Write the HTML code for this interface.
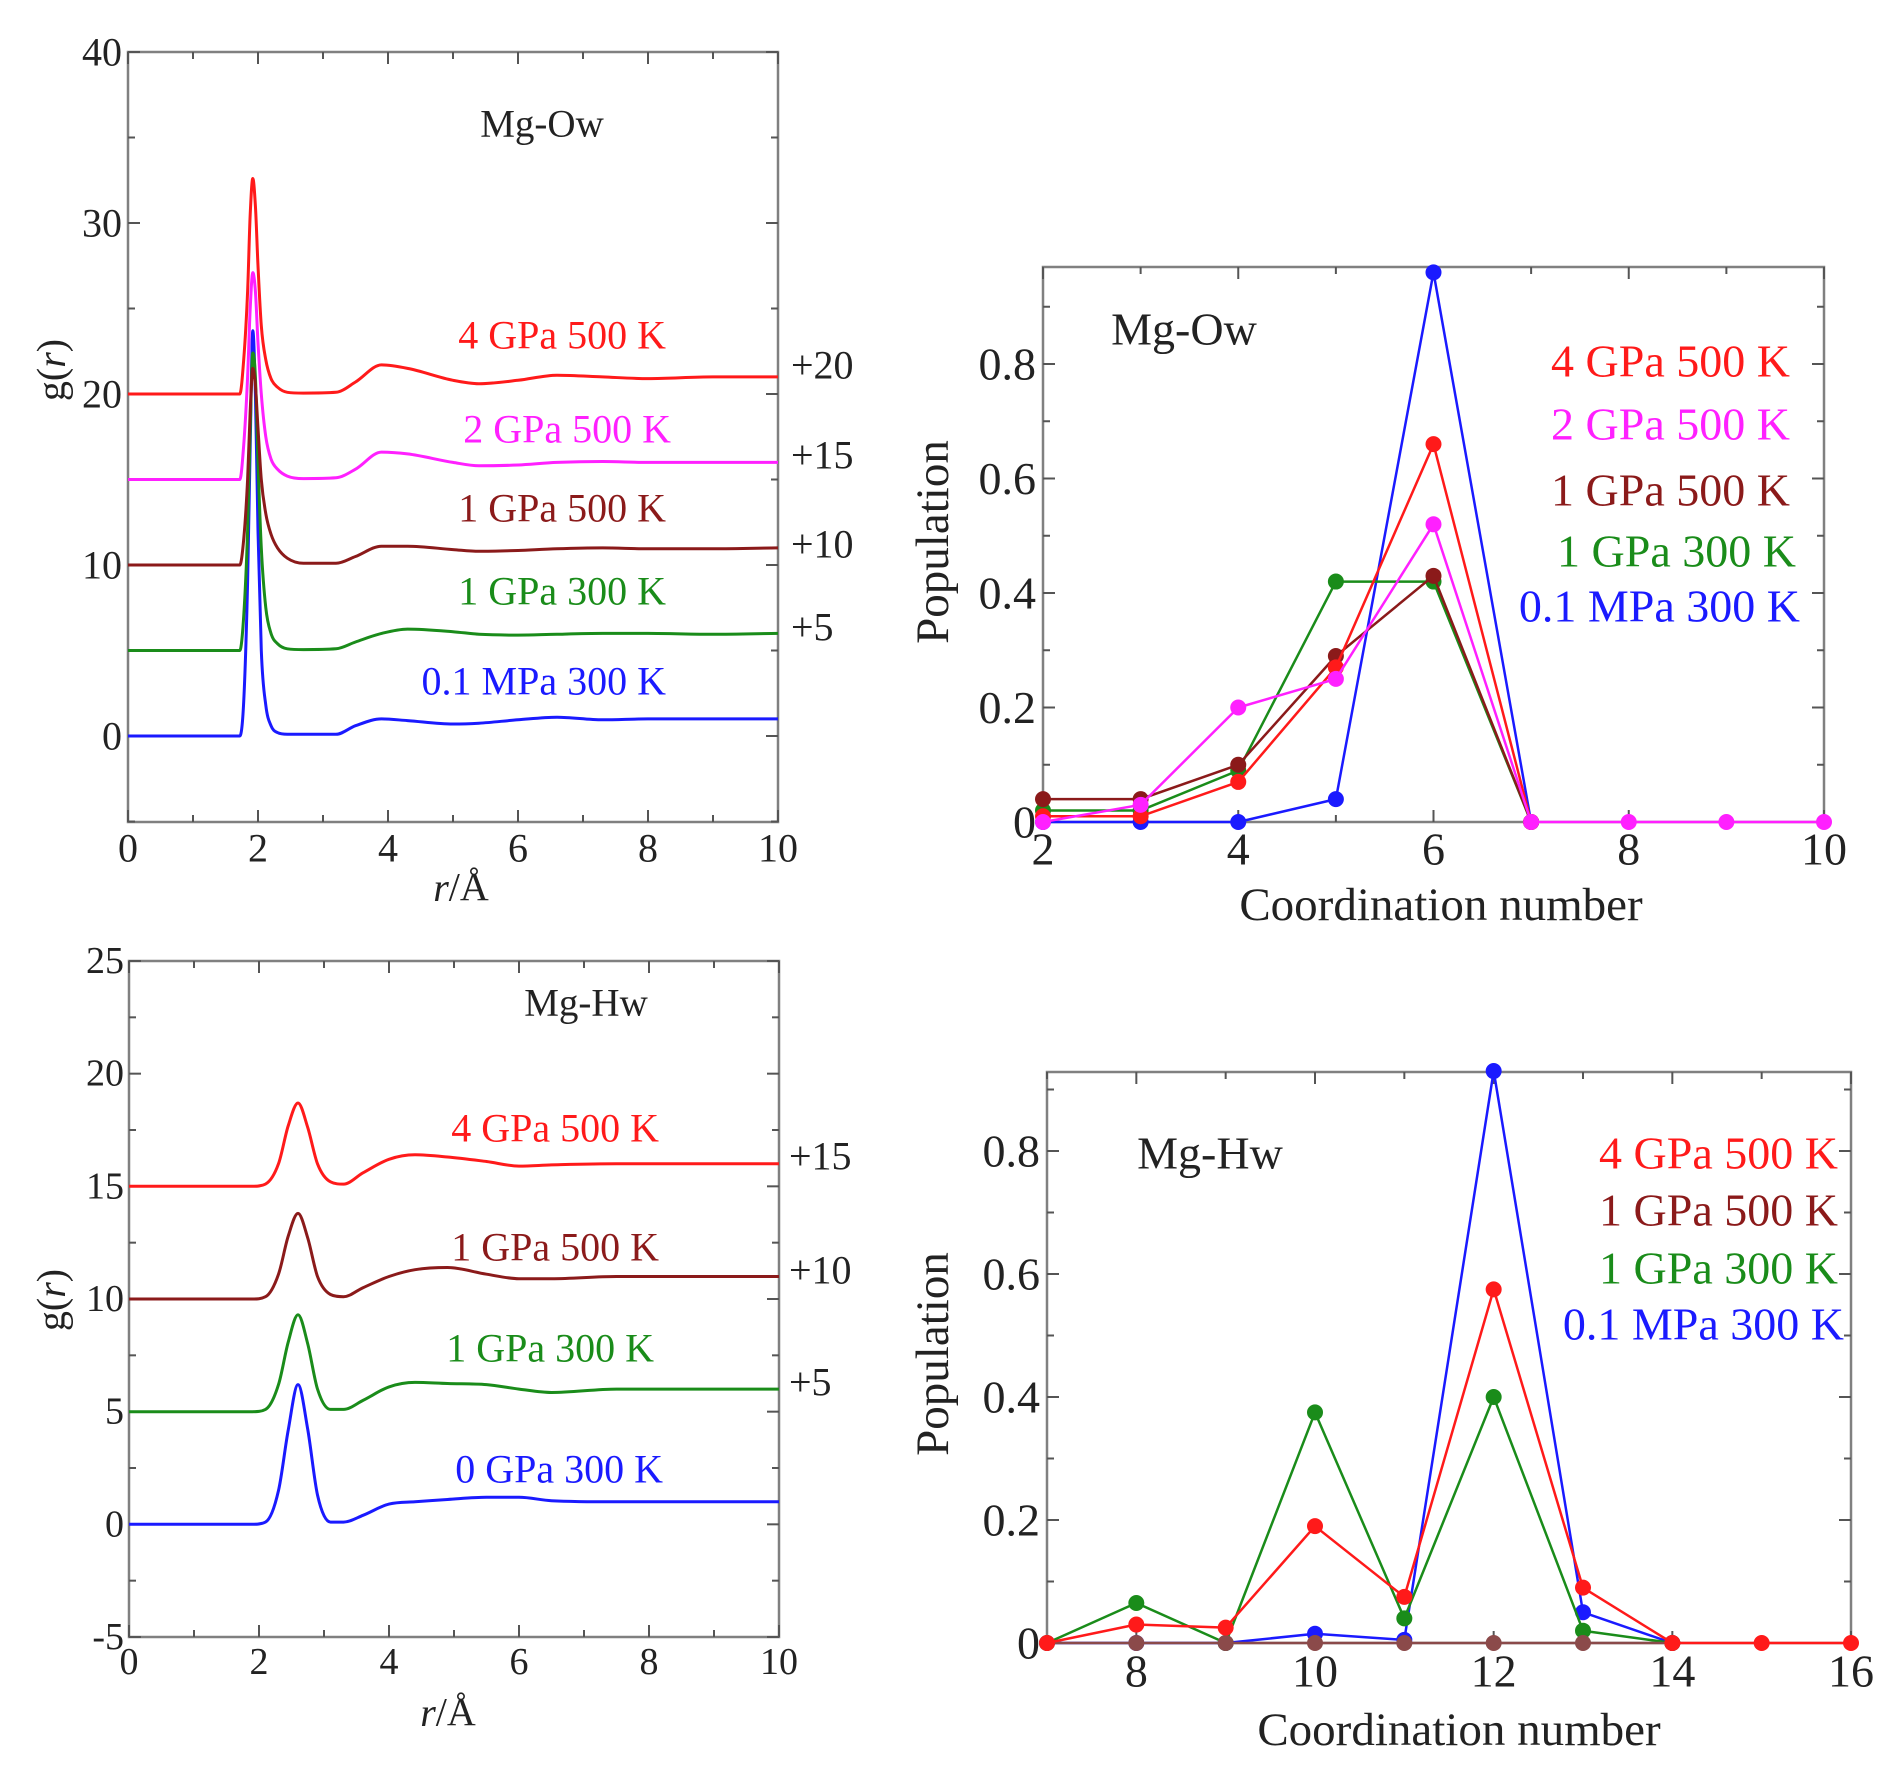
<!DOCTYPE html>
<html><head><meta charset="utf-8"><style>
body{margin:0;background:#fff}
svg{display:block}
text{font-family:"Liberation Serif",serif}
</style></head><body>
<svg id="fig" width="1888" height="1779" viewBox="0 0 1888 1779"></svg>
<script>
// ---- data: Mg-Ow g(r) (without offset) ----
const owR = [0,1.72,1.78,1.84,1.88,1.92,1.96,2.0,2.05,2.12,2.2,2.3,2.45,2.7,3.2,3.5,3.9,4.3,5.0,5.4,6.0,6.6,7.3,8.0,9.0,10];
const owBlue  = [0,0,2,9,17,23.7,20,12,5,1.8,0.6,0.2,0.1,0.1,0.1,0.6,1.0,0.9,0.7,0.75,0.95,1.1,0.95,1.0,1.0,1.0];
const owGreen = [0,0,2,7,13,17.4,16,11,6,2.5,1.0,0.4,0.1,0.05,0.1,0.5,1.0,1.25,1.1,0.95,0.9,0.95,1.0,1.0,0.95,1.0];
const owBrown = [0,0,1.5,5,9,11.5,10.5,8,5,3,1.8,1.0,0.4,0.1,0.1,0.5,1.1,1.1,0.9,0.8,0.85,0.95,1.0,0.95,0.95,1.0];
const owMag   = [0,0,2,6,10,12.1,11,8,5,2.5,1.2,0.6,0.2,0.05,0.1,0.6,1.6,1.5,1.0,0.8,0.85,1.0,1.05,1.0,1.0,1.0];
const owRed   = [0,0,2,6,10.5,12.6,11,7.5,4,2,0.9,0.4,0.1,0.05,0.1,0.7,1.7,1.5,0.8,0.6,0.8,1.1,1.0,0.9,1.0,1.0];
const owOffsets = [0,5,10,15,20];
// ---- data: Mg-Hw g(r) ----
const hwR = [0,1.9,2.1,2.3,2.45,2.6,2.75,2.9,3.1,3.3,3.6,4.0,4.4,4.9,5.5,6.0,6.5,7.5,8.5,10];
const hwBlue  = [0,0,0.1,1.5,4.2,6.2,4.2,1.3,0.1,0.1,0.4,0.9,1.0,1.1,1.2,1.2,1.05,1.0,1.0,1.0];
const hwGreen = [0,0,0.1,1.2,3.1,4.3,3.0,1.0,0.1,0.1,0.5,1.1,1.3,1.25,1.2,1.0,0.85,1.0,1.0,1.0];
const hwBrown = [0,0,0.1,1.1,2.8,3.8,2.7,1.0,0.2,0.1,0.5,1.0,1.3,1.4,1.1,0.9,0.9,1.0,1.0,1.0];
const hwRed   = [0,0,0.1,1.0,2.7,3.7,2.6,1.0,0.2,0.1,0.6,1.2,1.4,1.3,1.1,0.9,0.95,1.0,1.0,1.0];
const hwOffsets = [0,5,10,15];
// ---- data: coordination populations ----
const cnOwX = [2,3,4,5,6,7,8,9,10];
const cnOwBlue  = [0,0,0,0.04,0.96,0];
const cnOwGreen = [0.02,0.02,0.09,0.42,0.42,0];
const cnOwBrown = [0.04,0.04,0.10,0.29,0.43,0];
const cnOwRed   = [0.01,0.01,0.07,0.27,0.66,0];
const cnOwMag   = [0,0.03,0.20,0.25,0.52,0,0,0,0];
const cnHwX = [7,8,9,10,11,12,13,14,15,16];
const cnHwBrown = [0,0,0,0,0,0,0,0];
const cnHwGreen = [0,0.065,0,0.375,0.04,0.40,0.02,0];
const cnHwBlue  = [0,0,0,0.015,0.005,0.93,0.05,0];
const cnHwRed   = [0,0.03,0.025,0.19,0.075,0.575,0.09,0,0,0];

const NS="http://www.w3.org/2000/svg";
const svg=document.getElementById('fig');
function mk(tag,attrs,parent){const e=document.createElementNS(NS,tag);for(const k in attrs)e.setAttribute(k,attrs[k]);(parent||svg).appendChild(e);return e;}
function txt(s,x,y,size,color,anchor,name,parent,rot){const t=mk('text',{x:x,y:y,'font-size':size,fill:color,'text-anchor':anchor||'middle','dominant-baseline':'central'},parent);


if(rot)t.setAttribute('transform','rotate(-90 '+x+' '+y+')');t.textContent=s;return t;}
function scale(d0,d1,p0,p1){return v=>p0+(v-d0)/(d1-d0)*(p1-p0);}

function frame(name,L,R,T,B,sx,sy,xt,xmin,yt,ymin,xfmt,yfmt,tsize,ylblRight,xlblY){
  const g=mk('g',{});
  
  
  mk('rect',{x:L,y:T,width:R-L,height:B-T,fill:'none',stroke:'#808080','stroke-width':2.5},g);
  xt.forEach(v=>{const x=sx(v);mk('line',{x1:x,y1:B,x2:x,y2:B-12,stroke:'#555','stroke-width':2},g);mk('line',{x1:x,y1:T,x2:x,y2:T+12,stroke:'#555','stroke-width':2},g);
    txt(xfmt(v),x,xlblY,tsize,'#222','middle','x-tick-label',g);});
  xmin.forEach(v=>{const x=sx(v);mk('line',{x1:x,y1:B,x2:x,y2:B-7,stroke:'#555','stroke-width':2},g);mk('line',{x1:x,y1:T,x2:x,y2:T+7,stroke:'#555','stroke-width':2},g);});
  yt.forEach(v=>{const y=sy(v);mk('line',{x1:L,y1:y,x2:L+12,y2:y,stroke:'#555','stroke-width':2},g);mk('line',{x1:R,y1:y,x2:R-12,y2:y,stroke:'#555','stroke-width':2},g);
    txt(yfmt(v),ylblRight,y,tsize,'#222','end','y-tick-label',g);});
  ymin.forEach(v=>{const y=sy(v);mk('line',{x1:L,y1:y,x2:L+7,y2:y,stroke:'#555','stroke-width':2},g);mk('line',{x1:R,y1:y,x2:R-7,y2:y,stroke:'#555','stroke-width':2},g);});
  return g;
}
// monotone cubic (Fritsch-Carlson) in pixel space
function smooth(P){const n=P.length,d=[],m=[];
  for(let i=0;i<n-1;i++)d.push((P[i+1][1]-P[i][1])/(P[i+1][0]-P[i][0]));
  m[0]=d[0];m[n-1]=d[n-2];
  for(let i=1;i<n-1;i++){m[i]=(d[i-1]*d[i]<=0)?0:(d[i-1]+d[i])/2;}
  for(let i=0;i<n-1;i++){if(d[i]===0){m[i]=0;m[i+1]=0;continue;}const a=m[i]/d[i],b=m[i+1]/d[i],s=a*a+b*b;if(s>9){const t=3/Math.sqrt(s);m[i]=t*a*d[i];m[i+1]=t*b*d[i];}}
  let s='M'+P[0][0].toFixed(1)+','+P[0][1].toFixed(1);
  for(let i=0;i<n-1;i++){const h=(P[i+1][0]-P[i][0])/3;
    s+=' C'+(P[i][0]+h).toFixed(1)+','+(P[i][1]+m[i]*h).toFixed(1)+' '+(P[i+1][0]-h).toFixed(1)+','+(P[i+1][1]-m[i+1]*h).toFixed(1)+' '+P[i+1][0].toFixed(1)+','+P[i+1][1].toFixed(1);}
  return s;}
function curve(xs,ys,off,sx,sy,color,name,w,sm){
  const P=xs.map((x,i)=>[sx(x),sy(ys[i]+off)]);
  const p=sm?smooth(P):P.map((q,i)=>(i?'L':'M')+q[0].toFixed(1)+','+q[1].toFixed(1)).join(' ');
  const e=mk('path',{d:p,fill:'none',stroke:color,'stroke-width':w||3,'stroke-linejoin':'round'});
  
  
}
function pts(xs,ys,sx,sy,color,name){
  curve(xs.slice(0,ys.length),ys,0,sx,sy,color,name+'-line',2.5,false);
  ys.forEach((v,i)=>{const c=mk('circle',{cx:sx(xs[i]),cy:sy(v),r:8,fill:color});
    
    });
}
const RED='#ff1a1a',MAG='#ff20ff',BRN='#8b1a1a',GRN='#1a8c1a',BLU='#1a1aff';

// ---- Panel 1: Mg-Ow g(r) ----
{const sx=scale(0,10,128,778),sy=scale(0,40,736,52);
 frame('mg-ow-gr-axes',128,778,52,822,sx,sy,[0,2,4,6,8,10],[1,3,5,7,9],[0,10,20,30,40],[-5,5,15,25,35],String,String,40,122,848);
 const ser=[owBlue,owGreen,owBrown,owMag,owRed],cols=[BLU,GRN,BRN,MAG,RED];
 ser.forEach((s,i)=>curve(owR,s,owOffsets[i],sx,sy,cols[i],'gr-ow-series-'+i,3,true));
 txt('Mg-Ow',542,124,39,'#222','middle','panel-title');
 txt('4 GPa 500 K',666,335,40,RED,'end','label-4gpa');
 txt('2 GPa 500 K',671,429,40,MAG,'end','label-2gpa');
 txt('1 GPa 500 K',666,508,40,BRN,'end','label-1gpa-500');
 txt('1 GPa 300 K',666,591,40,GRN,'end','label-1gpa-300');
 txt('0.1 MPa 300 K',666,681,40,BLU,'end','label-01mpa');
 [['+20',365],['+15',455],['+10',544],['+5',627]].forEach(a=>txt(a[0],791,a[1],40,'#222','start','offset-label'));
 const yl=txt('',51,370,40,'#222','middle','y-axis-title',null,true);yl.innerHTML='g(<tspan font-style="italic">r</tspan>)';
 const xl=txt('',461,887,40,'#222','middle','x-axis-title');xl.innerHTML='<tspan font-style="italic">r</tspan>/Å';
}
// ---- Panel 2: Mg-Hw g(r) ----
{const sx=scale(0,10,129,779),sy=scale(-5,25,1637,961);
 frame('mg-hw-gr-axes',129,779,961,1637,sx,sy,[0,2,4,6,8,10],[1,3,5,7,9],[-5,0,5,10,15,20,25],[-2.5,2.5,7.5,12.5,17.5,22.5],String,String,38,124,1662);
 const ser=[hwBlue,hwGreen,hwBrown,hwRed],cols=[BLU,GRN,BRN,RED];
 ser.forEach((s,i)=>curve(hwR,s,hwOffsets[i],sx,sy,cols[i],'gr-hw-series-'+i,3,true));
 txt('Mg-Hw',586,1003,39,'#222','middle','panel-title');
 txt('4 GPa 500 K',659,1128,40,RED,'end','label-4gpa');
 txt('1 GPa 500 K',659,1247,40,BRN,'end','label-1gpa-500');
 txt('1 GPa 300 K',654,1348,40,GRN,'end','label-1gpa-300');
 txt('0 GPa 300 K',663,1469,40,BLU,'end','label-0gpa');
 [['+15',1156],['+10',1270],['+5',1382]].forEach(a=>txt(a[0],789,a[1],40,'#222','start','offset-label'));
 const yl=txt('',51,1300,40,'#222','middle','y-axis-title',null,true);yl.innerHTML='g(<tspan font-style="italic">r</tspan>)';
 const xl=txt('',448,1712,40,'#222','middle','x-axis-title');xl.innerHTML='<tspan font-style="italic">r</tspan>/Å';
}
// ---- Panel 3: Mg-Ow population ----
{const sx=scale(2,10,1043,1824),sy=scale(0,0.8,822,364);
 frame('mg-ow-cn-axes',1043,1824,267,822,sx,sy,[2,4,6,8,10],[3,5,7,9],[0,0.2,0.4,0.6,0.8],[0.1,0.3,0.5,0.7,0.9],String,v=>v===0?'0':v.toFixed(1),46,1036,849);
 pts(cnOwX,cnOwBlue,sx,sy,BLU,'ow-cn-01mpa');
 pts(cnOwX,cnOwGreen,sx,sy,GRN,'ow-cn-1gpa-300');
 pts(cnOwX,cnOwBrown,sx,sy,BRN,'ow-cn-1gpa-500');
 pts(cnOwX,cnOwRed,sx,sy,RED,'ow-cn-4gpa');
 pts(cnOwX,cnOwMag,sx,sy,MAG,'ow-cn-2gpa');
 txt('Mg-Ow',1184,329,46,'#222','middle','panel-title');
 txt('4 GPa 500 K',1790,361,46,RED,'end','legend-4gpa');
 txt('2 GPa 500 K',1790,424,46,MAG,'end','legend-2gpa');
 txt('1 GPa 500 K',1790,490,46,BRN,'end','legend-1gpa-500');
 txt('1 GPa 300 K',1796,551,46,GRN,'end','legend-1gpa-300');
 txt('0.1 MPa 300 K',1800,606,46,BLU,'end','legend-01mpa');
 txt('Population',933,542,47,'#222','middle','y-axis-title',null,true);
 txt('Coordination number',1441,905,47,'#222','middle','x-axis-title');
}
// ---- Panel 4: Mg-Hw population ----
{const sx=scale(7,16,1047,1851),sy=scale(0,0.8,1643,1151);
 frame('mg-hw-cn-axes',1047,1851,1072,1643,sx,sy,[8,10,12,14,16],[7,9,11,13,15],[0,0.2,0.4,0.6,0.8],[0.1,0.3,0.5,0.7,0.9],String,v=>v===0?'0':v.toFixed(1),46,1040,1671);
 pts(cnHwX,cnHwBlue,sx,sy,BLU,'hw-cn-01mpa');
 pts(cnHwX,cnHwGreen,sx,sy,GRN,'hw-cn-1gpa-300');
 pts(cnHwX,cnHwBrown,sx,sy,'#8b4a4a','hw-cn-1gpa-500');
 pts(cnHwX,cnHwRed,sx,sy,RED,'hw-cn-4gpa');
 txt('Mg-Hw',1210,1153,46,'#222','middle','panel-title');
 txt('4 GPa 500 K',1838,1153,46,RED,'end','legend-4gpa');
 txt('1 GPa 500 K',1838,1210,46,BRN,'end','legend-1gpa-500');
 txt('1 GPa 300 K',1838,1268,46,GRN,'end','legend-1gpa-300');
 txt('0.1 MPa 300 K',1844,1324,46,BLU,'end','legend-01mpa');
 txt('Population',933,1354,47,'#222','middle','y-axis-title',null,true);
 txt('Coordination number',1459,1730,47,'#222','middle','x-axis-title');
}
</script>
</body></html>
